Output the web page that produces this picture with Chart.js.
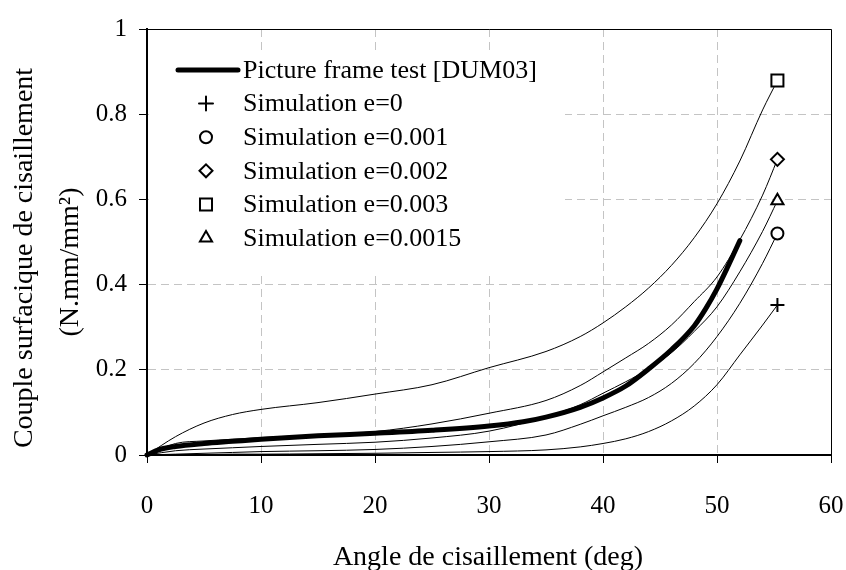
<!DOCTYPE html>
<html>
<head>
<meta charset="utf-8">
<title>Couple surfacique de cisaillement</title>
<script src="https://cdn.jsdelivr.net/npm/chart.js@4/dist/chart.umd.min.js"></script>
<style>
  html, body { margin: 0; padding: 0; background: #fff; }
</style>
</head>
<body>
<canvas id="chart" width="846" height="570"></canvas>
<script>
'use strict';

// shear angle (deg) of the simulated curves
var simAngles = [0, 2.5, 5, 7.5, 10, 15, 20, 25, 30, 35, 38, 40, 42, 44, 46, 48, 50, 52, 54, 55.3];
var simE0 = [0, 0.001, 0.001, 0.002, 0.002, 0.003, 0.004, 0.006, 0.008, 0.012, 0.019, 0.027, 0.038, 0.055, 0.08, 0.115, 0.165, 0.235, 0.305, 0.352];
var simE0001 = [0, 0.002, 0.004, 0.006, 0.008, 0.01, 0.013, 0.02, 0.031, 0.047, 0.072, 0.092, 0.112, 0.135, 0.168, 0.215, 0.278, 0.356, 0.45, 0.52];
var simE0002 = [0, 0.027, 0.033, 0.037, 0.041, 0.047, 0.055, 0.073, 0.098, 0.128, 0.163, 0.195, 0.228, 0.262, 0.305, 0.36, 0.418, 0.505, 0.61, 0.694];
var simE0003 = [0, 0.043, 0.075, 0.095, 0.107, 0.123, 0.143, 0.165, 0.205, 0.243, 0.278, 0.31, 0.348, 0.392, 0.445, 0.51, 0.59, 0.69, 0.81, 0.879];
var simE00015 = [0, 0.01, 0.014, 0.017, 0.02, 0.025, 0.03, 0.04, 0.056, 0.09, 0.118, 0.145, 0.172, 0.202, 0.24, 0.29, 0.348, 0.43, 0.525, 0.597];

// picture frame test
var testAngles = [0, 1, 2.5, 5, 7.5, 10, 15, 20, 25, 30, 33, 35, 38, 40, 42, 44, 46, 48, 49, 50, 51, 52];
var testCouple = [0, 0.012, 0.02, 0.027, 0.032, 0.037, 0.045, 0.051, 0.058, 0.068, 0.078, 0.089, 0.112, 0.134, 0.162, 0.202, 0.247, 0.303, 0.343, 0.39, 0.445, 0.503];

var seriesLabels = ['Picture frame test [DUM03]', 'Simulation e=0', 'Simulation e=0.001',
  'Simulation e=0.002', 'Simulation e=0.003', 'Simulation e=0.0015'];
var xTicks = [0, 10, 20, 30, 40, 50, 60];
var yTicks = [0, 0.2, 0.4, 0.6, 0.8, 1];
var yTickLabels = ['0', '0.2', '0.4', '0.6', '0.8', '1'];
var xTitle = 'Angle de cisaillement (deg)';
var yTitle = ['Couple surfacique de cisaillement', '(N.mm/mm\u00B2)'];

var FONT = '"Liberation Serif", "Times New Roman", serif';

function points(xs, ys) {
  return xs.map(function (x, i) { return {x: x, y: ys[i]}; });
}

function simSeries(label, ys, style, radius) {
  return {
    label: label,
    data: points(simAngles, ys),
    borderColor: '#000',
    borderWidth: 1,
    cubicInterpolationMode: 'monotone',
    pointStyle: style,
    pointRadius: function (c) { return c.dataIndex === ys.length - 1 ? radius : 0; },
    markerRadius: radius,
    pointBackgroundColor: '#fff',
    pointBorderColor: '#000',
    pointBorderWidth: 2,
    clip: false
  };
}

var legendBox = {
  id: 'legendBox',
  afterDatasetsDraw: function (chart) {
    var ctx = chart.ctx;
    ctx.save();
    ctx.fillStyle = '#fff';
    ctx.fillRect(149, 50, 416, 222);
    ctx.font = '26px ' + FONT;
    ctx.textBaseline = 'middle';
    ctx.textAlign = 'left';
    chart.data.datasets.forEach(function (ds, i) {
      var y = 70 + i * 33.6;
      ctx.strokeStyle = '#000';
      if (!ds.pointStyle) {
        ctx.lineWidth = 5;
        ctx.lineCap = 'round';
        ctx.beginPath();
        ctx.moveTo(178, y);
        ctx.lineTo(238, y);
        ctx.stroke();
      } else {
        ctx.lineWidth = 2;
        ctx.fillStyle = '#fff';
        Chart.helpers.drawPoint(ctx, {pointStyle: ds.pointStyle, radius: ds.markerRadius, borderWidth: 2, rotation: 0}, 206, y);
      }
      ctx.fillStyle = '#000';
      ctx.fillText(ds.label, 243, y + 1);
    });
    ctx.restore();
  }
};

var frameAndTitles = {
  id: 'frameAndTitles',
  beforeDatasetsDraw: function (chart) {
    var a = chart.chartArea;
    var ctx = chart.ctx;
    ctx.save();
    ctx.strokeStyle = '#000';
    ctx.lineWidth = 1;
    ctx.beginPath();
    ctx.moveTo(a.left, a.top + 0.5);
    ctx.lineTo(a.right + 0.5, a.top + 0.5);
    ctx.lineTo(a.right + 0.5, a.bottom);
    ctx.stroke();
    ctx.restore();
  },
  afterDraw: function (chart) {
    var ctx = chart.ctx;
    ctx.save();
    ctx.fillStyle = '#000';
    ctx.font = '28px ' + FONT;
    ctx.textAlign = 'center';
    ctx.textBaseline = 'alphabetic';
    ctx.fillText(xTitle, 488, 565);
    ctx.rotate(-Math.PI / 2);
    ctx.fillText(yTitle[0], -258, 32);
    ctx.fillText(yTitle[1], -262, 78);
    ctx.restore();
  }
};

var datasets = [
  {
    label: seriesLabels[0],
    data: points(testAngles, testCouple),
    borderColor: '#000',
    borderWidth: 5,
    borderCapStyle: 'round',
    cubicInterpolationMode: 'monotone',
    pointStyle: false,
    pointRadius: 0,
    clip: false
  },
  simSeries(seriesLabels[1], simE0, 'cross', 7),
  simSeries(seriesLabels[2], simE0001, 'circle', 6),
  simSeries(seriesLabels[3], simE0002, 'rectRot', 6.5),
  simSeries(seriesLabels[4], simE0003, 'rect', 8.5),
  simSeries(seriesLabels[5], simE00015, 'triangle', 7)
];

new Chart(document.getElementById('chart'), {
  type: 'line',
  data: {datasets: datasets},
  plugins: [frameAndTitles, legendBox],
  options: {
    responsive: false,
    devicePixelRatio: 1,
    animation: false,
    events: [],
    layout: {padding: {left: 0, top: 29, right: 15, bottom: 0}},
    plugins: {legend: {display: false}, tooltip: {enabled: false}},
    scales: {
      x: {
        type: 'linear',
        min: 0,
        max: 60,
        afterBuildTicks: function (s) { s.ticks = xTicks.map(function (v) { return {value: v}; }); },
        afterFit: function (s) {
          s.height = 115;
          s.paddingLeft = 0;
          s.paddingRight = 0;
        },
        grid: {color: '#c4c4c4', lineWidth: 1, tickLength: 8, tickColor: '#000', tickWidth: 1},
        border: {color: '#000', width: 2, dash: [8, 5]},
        ticks: {
          color: '#000',
          font: {family: FONT, size: 25},
          padding: 28,
          maxRotation: 0,
          autoSkip: false,
          callback: function (v) { return String(v); }
        }
      },
      y: {
        type: 'linear',
        min: 0,
        max: 1,
        afterBuildTicks: function (s) { s.ticks = yTicks.map(function (v) { return {value: v}; }); },
        afterFit: function (s) {
          s.width = 147;
          s.paddingTop = 0;
          s.paddingBottom = 0;
        },
        grid: {color: '#c4c4c4', lineWidth: 1, tickLength: 8, tickColor: '#000', tickWidth: 1},
        border: {color: '#000', width: 2, dash: [8, 5]},
        ticks: {
          color: '#000',
          font: {family: FONT, size: 25},
          padding: 12,
          callback: function (v, i) { return yTickLabels[i]; }
        }
      }
    }
  }
});
</script>
</body>
</html>
